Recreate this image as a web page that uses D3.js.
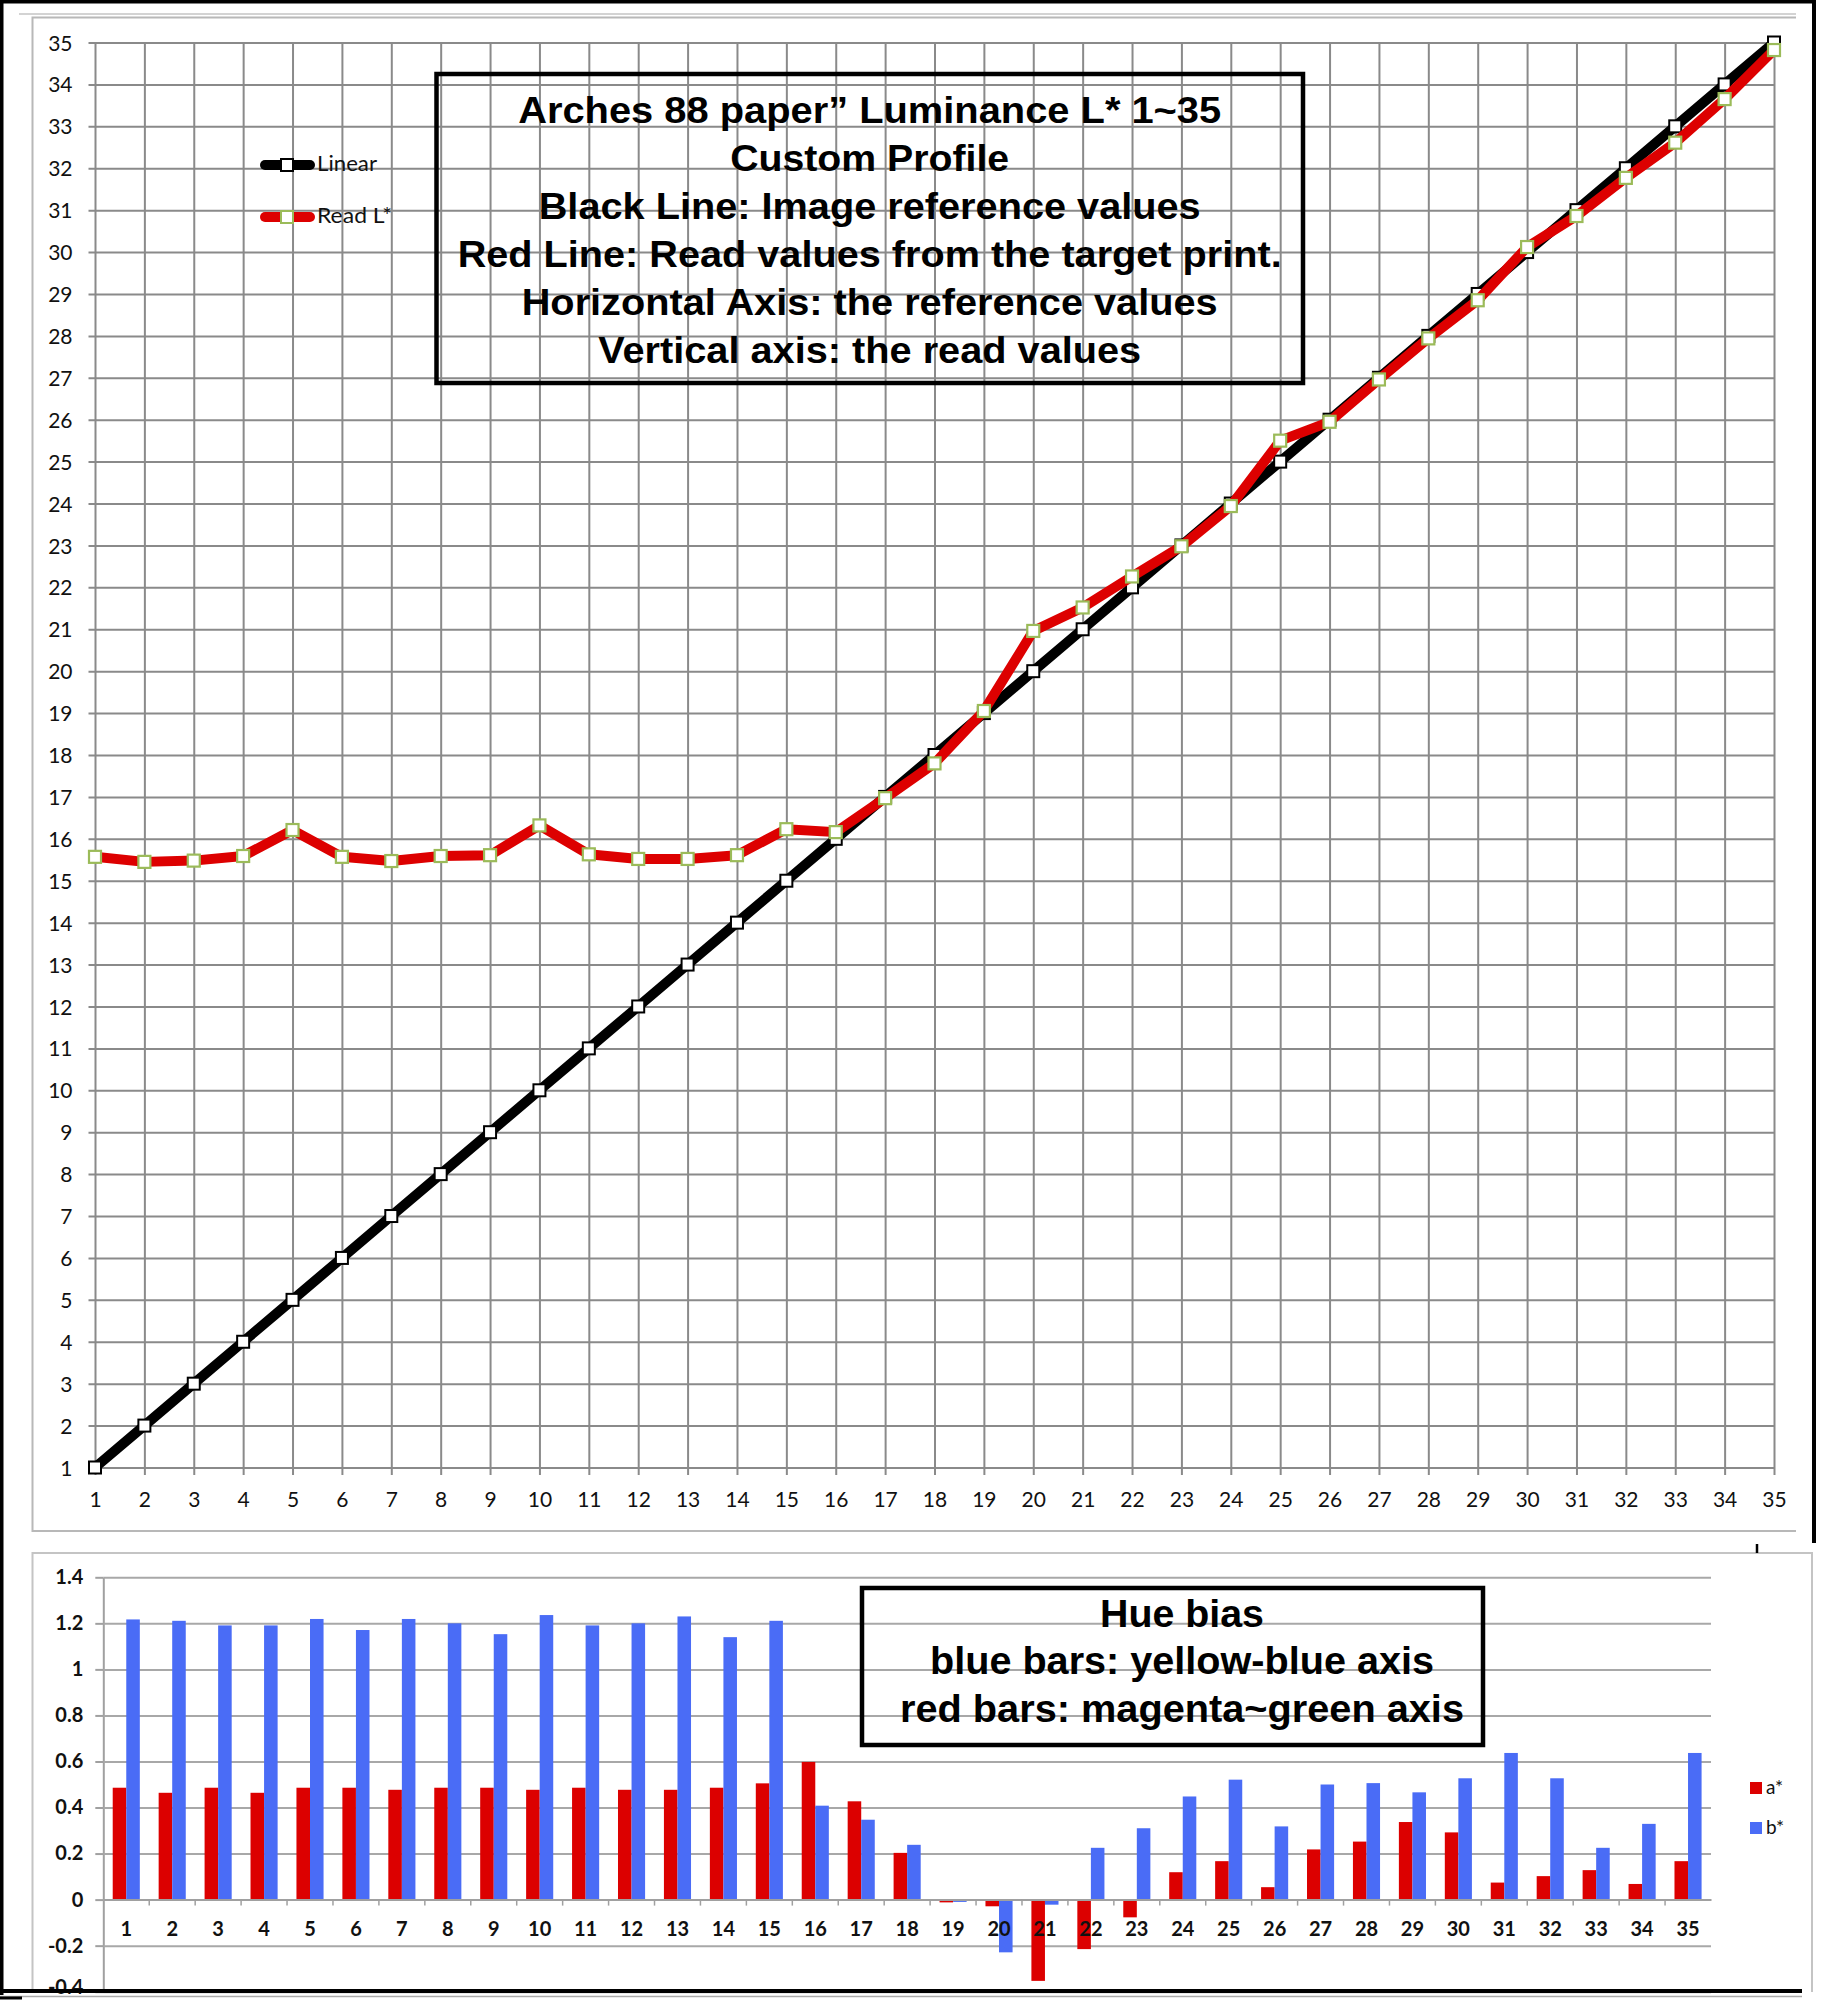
<!DOCTYPE html>
<html>
<head>
<meta charset="utf-8">
<script src="https://cdn.jsdelivr.net/npm/d3@7"></script>
<style>
  html, body { margin: 0; padding: 0; background: #fff; }
  svg { display: block; }
</style>
</head>
<body>
<div id="chart"></div>
<script>
// ---------------- DATA ----------------
const refValues = d3.range(1, 36); // categories 1..35 (reference L*)
const linearValues = [1,2,3,4,5,6,7,8,9,10,11,12,13,14,15,16,17,18,19,20,21,22,23,24,25,26,27,28,29,30,31,32,33,34,35];
const readValues = [15.57,15.45,15.48,15.59,16.21,15.57,15.47,15.59,15.61,16.32,15.63,15.52,15.52,15.61,16.23,16.16,16.97,17.8,19.05,20.96,21.52,22.26,22.98,23.94,25.5,25.95,26.96,27.94,28.85,30.12,30.86,31.77,32.61,33.65,34.82];
const mainTicks = d3.range(1, 36);

const barCategories = ["1","2","3","4","5","6","7","8","9","10","11","12","13","14","15","16","17","18","19","20","21","22","23","24","25","26","27","28","29","30","31","32","33","34","35"];
const aStar = [0.486,0.464,0.486,0.464,0.486,0.486,0.477,0.486,0.486,0.477,0.486,0.477,0.477,0.486,0.505,0.598,0.427,0.203,-0.012,-0.029,-0.353,-0.215,-0.077,0.119,0.167,0.054,0.218,0.252,0.337,0.292,0.074,0.102,0.128,0.068,0.167];
const bStar = [1.217,1.211,1.191,1.191,1.219,1.171,1.219,1.2,1.153,1.236,1.191,1.2,1.23,1.14,1.211,0.408,0.347,0.238,-0.01,-0.229,-0.022,0.225,0.31,0.448,0.521,0.318,0.5,0.506,0.466,0.527,0.637,0.527,0.225,0.329,0.637];
const barTicks = [-0.4,-0.2,0,0.2,0.4,0.6,0.8,1,1.2,1.4];
const barTickLabels = ["-0.4","-0.2","0","0.2","0.4","0.6","0.8","1","1.2","1.4"];

const titleLines = ["Arches 88 paper\u201D Luminance L* 1~35","Custom Profile","Black Line: Image reference values","Red Line: Read values from the target print.","Horizontal Axis: the reference values","Vertical axis: the read values"];
const hueLines = ["Hue bias","blue bars: yellow-blue axis","red bars: magenta~green axis"];
const seriesNames = ["Linear","Read L*"];
const barSeriesNames = ["a*","b*"];

// ---------------- SETUP ----------------
const W = 1823, H = 2000;
const svg = d3.select("#chart").append("svg").attr("width", W).attr("height", H);
svg.append("rect").attr("width", W).attr("height", H).attr("fill", "#fff");

const LBL = "Lato, 'Open Sans', sans-serif";
const BOLDF = "'Liberation Sans', Arial, sans-serif";

// ---------------- FRAMES (main chart) ----------------
svg.append("line").attr("x1", 19).attr("x2", 1796).attr("y1", 14).attr("y2", 14).attr("stroke", "#c4c4c4").attr("stroke-width", 1.5);
svg.append("path").attr("d", "M1796,17.5 L32.5,17.5 L32.5,1531 L1796,1531").attr("fill", "none").attr("stroke", "#b8b8b8").attr("stroke-width", 2);

// ---------------- MAIN CHART ----------------
const xMain = d3.scaleLinear().domain([1, 35]).range([95, 1774]);
const yMain = d3.scaleLinear().domain([1, 35]).range([1467.5, 42.5]);
const gridColor = "#8a8a8a";

const yAxisMain = d3.axisLeft(yMain).tickValues(mainTicks).tickFormat(d3.format("d"))
  .tickSize(-(1774 - 88.5)).tickPadding(16);
const gy = svg.append("g").attr("transform", "translate(88.5,0)").call(yAxisMain);
gy.select(".domain").remove();
gy.selectAll(".tick line").attr("stroke", gridColor).attr("stroke-width", 2);
gy.selectAll(".tick text").attr("font-family", LBL).attr("font-size", 21).attr("fill", "#111").attr("dy", "0.36em");

const xAxisMain = d3.axisBottom(xMain).tickValues(mainTicks).tickFormat(d3.format("d"))
  .tickSize(-(1475 - 42.5)).tickPadding(17);
const gx = svg.append("g").attr("transform", "translate(0,1475)").call(xAxisMain);
gx.select(".domain").remove();
gx.selectAll(".tick line").attr("stroke", gridColor).attr("stroke-width", 2);
gx.selectAll(".tick text").attr("font-family", LBL).attr("font-size", 21).attr("fill", "#111");

const lineGen = d3.line().x((d, i) => xMain(refValues[i])).y(d => yMain(d));
const MS = 12;

// Linear series
svg.append("path").datum(linearValues).attr("d", lineGen)
  .attr("fill", "none").attr("stroke", "#000").attr("stroke-width", 10)
  .attr("stroke-linejoin", "round").attr("stroke-linecap", "round");
svg.append("g").selectAll("rect").data(linearValues).join("rect")
  .attr("x", (d, i) => xMain(refValues[i]) - MS / 2).attr("y", d => yMain(d) - MS / 2)
  .attr("width", MS).attr("height", MS)
  .attr("fill", "#fff").attr("stroke", "#000").attr("stroke-width", 2);

// Read L* series
svg.append("path").datum(readValues).attr("d", lineGen)
  .attr("fill", "none").attr("stroke", "#dd0000").attr("stroke-width", 10)
  .attr("stroke-linejoin", "round").attr("stroke-linecap", "round");
svg.append("g").selectAll("rect").data(readValues).join("rect")
  .attr("x", (d, i) => xMain(refValues[i]) - MS / 2).attr("y", d => yMain(d) - MS / 2)
  .attr("width", MS).attr("height", MS)
  .attr("fill", "#fff").attr("stroke", "#9bbb59").attr("stroke-width", 2.2);

// Legend (main)
const legMain = [
  { name: seriesNames[0], color: "#000", mk: "#000", y: 165, ty: 171, tl: 60 },
  { name: seriesNames[1], color: "#dd0000", mk: "#9bbb59", y: 217, ty: 223, tl: 75 }
];
legMain.forEach(l => {
  svg.append("line").attr("x1", 265).attr("x2", 310).attr("y1", l.y).attr("y2", l.y)
    .attr("stroke", l.color).attr("stroke-width", 10).attr("stroke-linecap", "round");
  svg.append("rect").attr("x", 287 - 6).attr("y", l.y - 6).attr("width", 12).attr("height", 12)
    .attr("fill", "#fff").attr("stroke", l.mk).attr("stroke-width", 2);
  svg.append("text").attr("x", 317).attr("y", l.ty).text(l.name)
    .attr("font-family", LBL).attr("font-size", 21).attr("fill", "#111")
    .attr("textLength", l.tl).attr("lengthAdjust", "spacingAndGlyphs");
});

// Title box (main)
svg.append("rect").attr("x", 436.5).attr("y", 74).attr("width", 866.5).attr("height", 309)
  .attr("fill", "none").attr("stroke", "#000").attr("stroke-width", 4.5);
const titleWidths = [703, 279, 662, 824, 696, 543];
const titleBase = [123, 171, 219, 267, 315, 363];
titleLines.forEach((t, i) => {
  svg.append("text").attr("x", 869.7).attr("y", titleBase[i]).attr("text-anchor", "middle")
    .attr("font-family", BOLDF).attr("font-weight", "bold").attr("font-size", 37).attr("fill", "#000")
    .attr("textLength", titleWidths[i]).attr("lengthAdjust", "spacingAndGlyphs").text(t);
});

// ---------------- OUTER BORDERS ----------------
svg.append("line").attr("x1", 0).attr("x2", 1814).attr("y1", 1.5).attr("y2", 1.5).attr("stroke", "#000").attr("stroke-width", 4);
svg.append("line").attr("x1", 1.5).attr("x2", 1.5).attr("y1", 0).attr("y2", 1995).attr("stroke", "#000").attr("stroke-width", 4);
svg.append("line").attr("x1", 1814).attr("x2", 1814).attr("y1", 0).attr("y2", 1543).attr("stroke", "#000").attr("stroke-width", 4);

// ---------------- BAR CHART ----------------
svg.append("path").attr("d", "M32.5,1992 L32.5,1553 L1812,1553 L1812,1992").attr("fill", "none").attr("stroke", "#c4c4c4").attr("stroke-width", 2);
svg.append("line").attr("x1", 1757).attr("x2", 1757).attr("y1", 1544).attr("y2", 1553).attr("stroke", "#000").attr("stroke-width", 2.5);

const yBar = d3.scaleLinear().domain([-0.4, 1.4]).range([1991.7, 1577.3]);
const x0 = d3.scaleBand().domain(barCategories).range([103.3, 1711]).paddingInner(0.41).paddingOuter(0.205);
const x1 = d3.scaleBand().domain(barSeriesNames).range([0, x0.bandwidth()]);
const barColors = { "a*": "#dc0000", "b*": "#4a6cf6" };

const yAxisBar = d3.axisLeft(yBar).tickValues(barTicks).tickFormat((d, i) => barTickLabels[i])
  .tickSizeInner(-(1711 - 103.3)).tickSizeOuter(0).tickPadding(20);
const gyb = svg.append("g").attr("transform", "translate(103.3,0)").call(yAxisBar);
gyb.select(".domain").attr("stroke", "#a0a0a0").attr("stroke-width", 2);
gyb.selectAll(".tick line").attr("stroke", "#a8a8a8").attr("stroke-width", 2);
gyb.selectAll(".tick text").attr("font-family", LBL).attr("font-weight", "bold").attr("font-size", 20).attr("fill", "#111");
// lowest label sits against the bottom edge, as in the reference; keep it inside the page
gyb.selectAll(".tick text").filter(d => d === -0.4).attr("dy", "0.1em");
// small outer ticks to the left of the axis
gyb.selectAll(".tick").append("line").attr("x1", -8).attr("x2", 0).attr("stroke", "#a0a0a0").attr("stroke-width", 2);

// bars
const groups = svg.append("g").selectAll("g").data(barCategories).join("g")
  .attr("transform", d => `translate(${x0(d)},0)`);
groups.selectAll("rect").data((d, i) => [{ k: "a*", v: aStar[i] }, { k: "b*", v: bStar[i] }]).join("rect")
  .attr("x", d => x1(d.k)).attr("width", x1.bandwidth())
  .attr("y", d => yBar(Math.max(0, d.v))).attr("height", d => Math.abs(yBar(d.v) - yBar(0)))
  .attr("fill", d => barColors[d.k]);

// x axis for bars (at 0)
const xAxisBar = d3.axisBottom(x0).tickSize(0).tickPadding(22);
const gxb = svg.append("g").attr("transform", `translate(0,${yBar(0)})`).call(xAxisBar);
gxb.select(".domain").attr("stroke", "#a0a0a0").attr("stroke-width", 2);
gxb.selectAll(".tick text").attr("font-family", LBL).attr("font-weight", "bold").attr("font-size", 20).attr("fill", "#111");
// category boundary ticks
svg.append("g").selectAll("line").data(barCategories.slice(1)).join("line")
  .attr("x1", d => x0(d) - x0.step() * x0.paddingInner() / 2).attr("x2", d => x0(d) - x0.step() * x0.paddingInner() / 2)
  .attr("y1", yBar(0)).attr("y2", yBar(0) + 6).attr("stroke", "#a0a0a0").attr("stroke-width", 1.5);

// legend (bars)
barSeriesNames.forEach((n, i) => {
  const yy = 1782 + i * 40;
  svg.append("rect").attr("x", 1750).attr("y", yy).attr("width", 12).attr("height", 12).attr("fill", barColors[n]);
  svg.append("text").attr("x", 1766).attr("y", yy + 12).text(n)
    .attr("font-family", LBL).attr("font-size", 19).attr("fill", "#111");
});

// hue bias box
svg.append("rect").attr("x", 862).attr("y", 1588).attr("width", 621).attr("height", 157)
  .attr("fill", "none").attr("stroke", "#000").attr("stroke-width", 4.5);
const hueWidths = [164, 504, 564];
const hueBase = [1626.5, 1674, 1721.5];
hueLines.forEach((t, i) => {
  svg.append("text").attr("x", 1182).attr("y", hueBase[i]).attr("text-anchor", "middle")
    .attr("font-family", BOLDF).attr("font-weight", "bold").attr("font-size", 38).attr("fill", "#000")
    .attr("textLength", hueWidths[i]).attr("lengthAdjust", "spacingAndGlyphs").text(t);
});

// bottom border
svg.append("line").attr("x1", 0).attr("x2", 1802).attr("y1", 1991).attr("y2", 1991).attr("stroke", "#000").attr("stroke-width", 4);
svg.append("line").attr("x1", 0).attr("x2", 1802).attr("y1", 1996.5).attr("y2", 1996.5).attr("stroke", "#aaa").attr("stroke-width", 1.5);
svg.append("line").attr("x1", 0).attr("x2", 22).attr("y1", 1998).attr("y2", 1998).attr("stroke", "#000").attr("stroke-width", 3);
</script>
</body>
</html>
